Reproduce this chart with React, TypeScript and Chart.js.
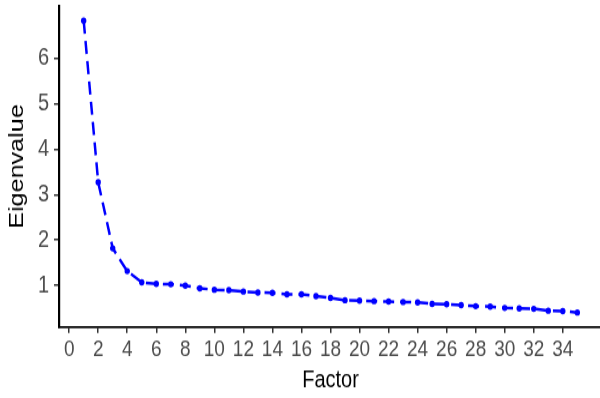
import { useEffect, useRef } from "react";
import { Chart, registerables } from "chart.js";

Chart.register(...registerables);

// Scree plot data: eigenvalue of each extracted factor
const factors = [
  1, 2, 3, 4, 5, 6, 7, 8, 9, 10, 11, 12, 13, 14, 15, 16, 17, 18, 19, 20, 21, 22,
  23, 24, 25, 26, 27, 28, 29, 30, 31, 32, 33, 34, 35,
];
const eigenvalues = [
  6.82, 3.27, 1.82, 1.32, 1.07, 1.04, 1.03, 1.0, 0.94, 0.91, 0.9, 0.87, 0.85,
  0.84, 0.81, 0.81, 0.77, 0.73, 0.68, 0.67, 0.66, 0.65, 0.64, 0.63, 0.6, 0.59,
  0.57, 0.55, 0.54, 0.51, 0.5, 0.49, 0.45, 0.44, 0.41,
];
const xTickValues = [0, 2, 4, 6, 8, 10, 12, 14, 16, 18, 20, 22, 24, 26, 28, 30, 32, 34];
const yTickValues = [1, 2, 3, 4, 5, 6];

const FONT = '"Liberation Sans", Arial, sans-serif';
// the plot is drawn on a shorter canvas and stretched vertically
const CANVAS_W = 606;
const CANVAS_H = 332;
const STRETCH_Y = 398 / CANVAS_H;

export default function App() {
  const canvasRef = useRef<HTMLCanvasElement | null>(null);

  useEffect(() => {
    const canvas = canvasRef.current;
    if (!canvas) return;
    const chart = new Chart(canvas, {
      type: "line",
      data: {
        datasets: [
          {
            data: factors.map((f, i) => ({ x: f, y: eigenvalues[i] })),
            borderColor: "#0000FF",
            backgroundColor: "#0000FF",
            borderWidth: 2.5,
            borderDash: [11, 6],
            pointRadius: 2.7,
            pointBorderWidth: 0,
            pointBackgroundColor: "#0000FF",
            tension: 0,
            fill: false,
          },
        ],
      },
      options: {
        responsive: false,
        animation: false,
        devicePixelRatio: 1,
        layout: { padding: { top: 5, right: 2, bottom: 0, left: 0 } },
        plugins: {
          legend: { display: false },
          tooltip: { enabled: false },
        },
        scales: {
          x: {
            type: "linear",
            min: -0.7,
            max: 36.7,
            afterBuildTicks: (scale: any) => {
              scale.ticks = xTickValues.map((v) => ({ value: v }));
            },
            afterFit: (scale: any) => {
              scale.height = 59.2;
              scale.paddingLeft = 0;
              scale.paddingRight = 0;
            },
            grid: {
              display: true,
              drawOnChartArea: false,
              drawTicks: true,
              tickLength: 5,
              color: "#333333",
              lineWidth: 1.5,
            },
            border: { display: true, color: "#000000", width: 1.8 },
            ticks: {
              color: "#4D4D4D",
              font: { family: FONT, size: 19 },
              padding: 3,
              maxRotation: 0,
              autoSkip: false,
            },
            title: {
              display: true,
              text: "Factor",
              color: "#000000",
              font: { family: FONT, size: 20 },
              padding: { top: 0, bottom: 3 },
            },
          },
          y: {
            type: "linear",
            min: 0.09,
            max: 7.14,
            afterBuildTicks: (scale: any) => {
              scale.ticks = yTickValues.map((v) => ({ value: v }));
            },
            afterFit: (scale: any) => {
              scale.width = 59;
              scale.paddingTop = 0;
              scale.paddingBottom = 0;
            },
            grid: {
              display: true,
              drawOnChartArea: false,
              drawTicks: true,
              tickLength: 5,
              color: "#333333",
              lineWidth: 1.5,
            },
            border: { display: true, color: "#000000", width: 2.2 },
            ticks: {
              color: "#4D4D4D",
              font: { family: FONT, size: 20 },
              padding: 5,
            },
            title: {
              display: true,
              text: "Eigenvalue",
              color: "#000000",
              font: { family: FONT, size: 21 },
              padding: { top: 5, bottom: 0 },
            },
          },
        },
      },
    });
    return () => chart.destroy();
  }, []);

  return (
    <div
      style={{
        position: "fixed",
        left: 0,
        top: 0,
        width: 600,
        height: 398,
        overflow: "hidden",
        background: "#ffffff",
      }}
    >
      <div
        style={{
          width: CANVAS_W,
          height: CANVAS_H,
          transform: `scale(1, ${STRETCH_Y})`,
          transformOrigin: "0 0",
        }}
      >
        <canvas ref={canvasRef} width={CANVAS_W} height={CANVAS_H} />
      </div>
    </div>
  );
}
